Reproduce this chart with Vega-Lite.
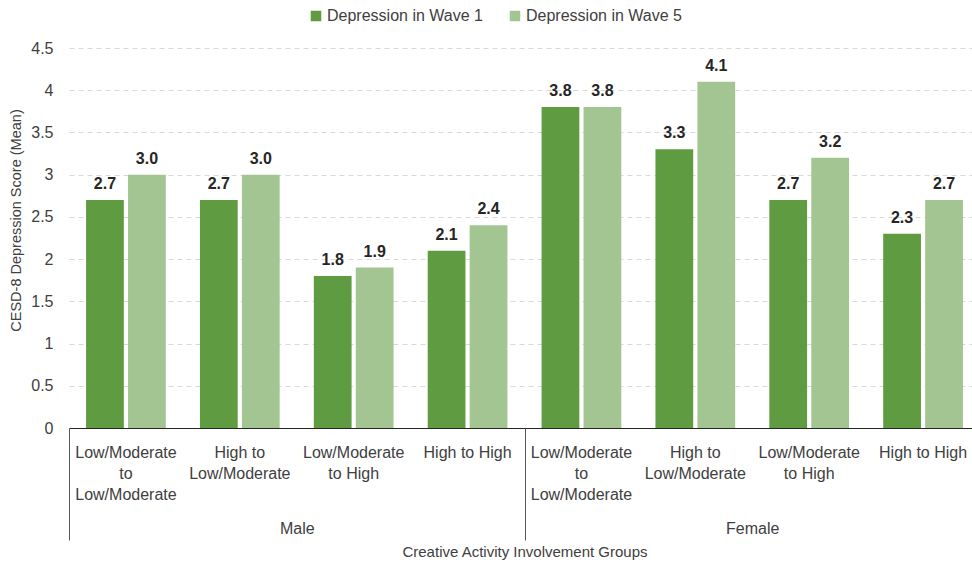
{
  "$schema": "https://vega.github.io/schema/vega-lite/v6.json",
  "width": 911,
  "height": 380,
  "autosize": {"type": "none"},
  "padding": {"left": 69, "top": 48, "right": 0, "bottom": 138},
  "config": {
    "font": "Liberation Sans",
    "view": {"stroke": null},
    "axis": {"labelFont": "Liberation Sans", "titleFont": "Liberation Sans"}
  },
  "data": {
    "values": [
      {"gender": "Male", "key": "M|Low/Moderate|to|Low/Moderate", "wave": "Depression in Wave 1", "value": 2.7},
      {"gender": "Male", "key": "M|Low/Moderate|to|Low/Moderate", "wave": "Depression in Wave 5", "value": 3.0},
      {"gender": "Male", "key": "M|High to|Low/Moderate", "wave": "Depression in Wave 1", "value": 2.7},
      {"gender": "Male", "key": "M|High to|Low/Moderate", "wave": "Depression in Wave 5", "value": 3.0},
      {"gender": "Male", "key": "M|Low/Moderate|to High", "wave": "Depression in Wave 1", "value": 1.8},
      {"gender": "Male", "key": "M|Low/Moderate|to High", "wave": "Depression in Wave 5", "value": 1.9},
      {"gender": "Male", "key": "M|High to High", "wave": "Depression in Wave 1", "value": 2.1},
      {"gender": "Male", "key": "M|High to High", "wave": "Depression in Wave 5", "value": 2.4},
      {"gender": "Female", "key": "F|Low/Moderate|to|Low/Moderate", "wave": "Depression in Wave 1", "value": 3.8},
      {"gender": "Female", "key": "F|Low/Moderate|to|Low/Moderate", "wave": "Depression in Wave 5", "value": 3.8},
      {"gender": "Female", "key": "F|High to|Low/Moderate", "wave": "Depression in Wave 1", "value": 3.3},
      {"gender": "Female", "key": "F|High to|Low/Moderate", "wave": "Depression in Wave 5", "value": 4.1},
      {"gender": "Female", "key": "F|Low/Moderate|to High", "wave": "Depression in Wave 1", "value": 2.7},
      {"gender": "Female", "key": "F|Low/Moderate|to High", "wave": "Depression in Wave 5", "value": 3.2},
      {"gender": "Female", "key": "F|High to High", "wave": "Depression in Wave 1", "value": 2.3},
      {"gender": "Female", "key": "F|High to High", "wave": "Depression in Wave 5", "value": 2.7}
    ]
  },
  "layer": [
    {
      "encoding": {
        "x": {
          "field": "key",
          "type": "nominal",
          "scale": {
            "domain": [
              "M|Low/Moderate|to|Low/Moderate", "M|High to|Low/Moderate", "M|Low/Moderate|to High", "M|High to High",
              "F|Low/Moderate|to|Low/Moderate", "F|High to|Low/Moderate", "F|Low/Moderate|to High", "F|High to High"
            ],
            "paddingInner": 0.3,
            "paddingOuter": 0.15
          },
          "axis": {
            "orient": "bottom",
            "title": null,
            "ticks": false,
            "domain": true,
            "domainColor": "#262626",
            "domainWidth": 1,
            "labelAngle": 0,
            "labelOverlap": false,
            "labelPadding": 16,
            "labelFontSize": 16,
            "labelLineHeight": 21,
            "labelColor": "#404040",
            "labelBaseline": "top",
            "labelLimit": 0,
            "labelExpr": "slice(split(datum.value, '|'), 1)"
          }
        },
        "xOffset": {
          "field": "wave",
          "type": "nominal",
          "scale": {"paddingInner": 0.1, "paddingOuter": 0}
        },
        "y": {
          "field": "value",
          "type": "quantitative",
          "scale": {"domain": [0, 4.5], "nice": false, "zero": true},
          "axis": {
            "title": "CESD-8 Depression Score (Mean)",
            "titleFontSize": 14.5,
            "titleFontWeight": "normal",
            "titleColor": "#404040",
            "titleX": -53,
            "titleY": 172,
            "titleBaseline": "middle",
            "titleAngle": -90,
            "values": [0, 0.5, 1, 1.5, 2, 2.5, 3, 3.5, 4, 4.5],
            "format": "~g",
            "domain": false,
            "ticks": false,
            "labelPadding": 16,
            "labelFontSize": 16,
            "labelColor": "#404040",
            "grid": true,
            "gridColor": "#d9d9d9",
            "gridDash": [5, 4],
            "gridWidth": 1
          }
        }
      },
      "layer": [
        {
          "mark": {"type": "bar"},
          "encoding": {
            "color": {
              "field": "wave",
              "type": "nominal",
              "scale": {
                "domain": ["Depression in Wave 1", "Depression in Wave 5"],
                "range": ["#5f9b41", "#a2c591"]
              },
              "legend": {
                "orient": "none",
                "direction": "horizontal",
                "legendX": 239,
                "legendY": -40,
                "title": null,
                "symbolType": "square",
                "symbolSize": 110,
                "symbolStrokeWidth": 0,
                "labelFontSize": 16,
                "labelColor": "#404040",
                "labelOffset": 3,
                "columnPadding": 24
              }
            }
          }
        },
        {
          "mark": {"type": "text", "baseline": "bottom", "dy": -8, "fontSize": 16, "fontWeight": "bold", "color": "#262626"},
          "encoding": {
            "text": {"field": "value", "type": "quantitative", "format": ".1f"}
          }
        }
      ]
    },
    {
      "mark": {"type": "point", "opacity": 0},
      "encoding": {
        "x": {
          "field": "gender",
          "type": "nominal",
          "scale": {"domain": ["Male", "Female"], "paddingInner": 0, "paddingOuter": 0},
          "axis": {
            "orient": "bottom",
            "title": "Creative Activity Involvement Groups",
            "titleFontSize": 15,
            "titleFontWeight": "normal",
            "titleColor": "#404040",
            "titlePadding": 4,
            "domain": false,
            "ticks": true,
            "tickBand": "extent",
            "tickSize": 112,
            "tickColor": "#595959",
            "tickWidth": 1,
            "labelAngle": 0,
            "labelPadding": -20,
            "labelFontSize": 16,
            "labelColor": "#404040",
            "labelBaseline": "top",
            "grid": false
          }
        }
      }
    }
  ],
  "resolve": {"scale": {"x": "independent"}, "axis": {"x": "independent"}}
}
